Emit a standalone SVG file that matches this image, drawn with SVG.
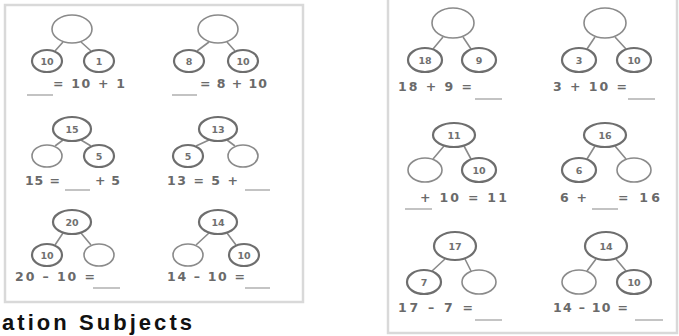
<svg xmlns="http://www.w3.org/2000/svg" width="679" height="336" viewBox="0 0 679 336">
<defs>
<style>
.panel{fill:#fff;stroke:#d9d9d9;stroke-width:2.5}
.n{fill:#fff;stroke:#8a8a8a;stroke-width:1.6}
.f{fill:#fff;stroke:#6e6e6e;stroke-width:2.2}
.c{stroke:#8a8a8a;stroke-width:1.6;fill:none}
.b{stroke:#b5b5b5;stroke-width:1.6}
.t{font-family:"DejaVu Sans",sans-serif;font-weight:bold;font-size:9.5px;fill:#707070;text-anchor:middle}
.e{font-family:"DejaVu Sans",sans-serif;font-weight:bold;font-size:12.5px;fill:#6a6a6a}
.h{font-family:"Liberation Sans",Arial,sans-serif;font-weight:bold;font-size:22px;fill:#111}
</style>
</defs>
<rect width="679" height="336" fill="#fff"/>
<rect class="panel" x="5" y="5" width="298" height="297"/>
<rect class="panel" x="388" y="-6" width="289" height="339"/>

<g id="connectors">
<path class="c" d="M63 42 L55 51 M81 42 L91 51"/>
<path class="c" d="M209 42 L197 51 M227 42 L235 51"/>
<path class="c" d="M63 140 L55 146 M81 140 L91 146"/>
<path class="c" d="M209 140 L196 146 M227 140 L235 146"/>
<path class="c" d="M63 233 L55 245 M81 233 L91 245"/>
<path class="c" d="M209 233 L196 245 M227 233 L236 245"/>
<path class="c" d="M443 37 L433 49 M463 37 L471 49"/>
<path class="c" d="M595 37 L587 49 M615 37 L626 49"/>
<path class="c" d="M444 146 L433 159 M464 146 L471 159"/>
<path class="c" d="M595 146 L587 159 M615 146 L626 159"/>
<path class="c" d="M445 259 L432 271 M465 259 L471 271"/>
<path class="c" d="M596 259 L587 271 M616 259 L626 271"/>
</g>

<g id="tree1">
<ellipse class="n" cx="72" cy="29" rx="20" ry="14"/>
<ellipse class="f" cx="47" cy="61" rx="15" ry="11"/><text class="t" x="47" y="64.5">10</text>
<ellipse class="f" cx="99" cy="61" rx="15" ry="11"/><text class="t" x="99" y="64.5">1</text>
<text class="e" x="53" y="88" textLength="72" lengthAdjust="spacing">= 10 + 1</text>
<line class="b" x1="27" y1="95" x2="53" y2="95"/>
</g>
<g id="tree2">
<ellipse class="n" cx="218" cy="29" rx="20" ry="14"/>
<ellipse class="f" cx="189" cy="61" rx="15" ry="11"/><text class="t" x="189" y="64.5">8</text>
<ellipse class="f" cx="243" cy="61" rx="15" ry="11"/><text class="t" x="243" y="64.5">10</text>
<text class="e" x="200" y="88" textLength="67" lengthAdjust="spacing">= 8 + 10</text>
<line class="b" x1="172" y1="95" x2="197" y2="95"/>
</g>
<g id="tree3">
<ellipse class="f" cx="72" cy="129" rx="19" ry="12"/><text class="t" x="72" y="132.5">15</text>
<ellipse class="n" cx="47" cy="156" rx="15" ry="11"/>
<ellipse class="f" cx="99" cy="156" rx="15" ry="11"/><text class="t" x="99" y="159.5">5</text>
<text class="e" x="25" y="185" textLength="35" lengthAdjust="spacing">15 =</text>
<text class="e" x="95" y="185" textLength="25" lengthAdjust="spacing">+ 5</text>
<line class="b" x1="65" y1="190" x2="90" y2="190"/>
</g>
<g id="tree4">
<ellipse class="f" cx="218" cy="129" rx="19" ry="12"/><text class="t" x="218" y="132.5">13</text>
<ellipse class="f" cx="188" cy="156" rx="15" ry="11"/><text class="t" x="188" y="159.5">5</text>
<ellipse class="n" cx="243" cy="156" rx="15" ry="11"/>
<text class="e" x="167" y="185" textLength="71" lengthAdjust="spacing">13 = 5 +</text>
<line class="b" x1="245" y1="190" x2="270" y2="190"/>
</g>
<g id="tree5">
<ellipse class="f" cx="72" cy="222" rx="19" ry="12"/><text class="t" x="72" y="225.5">20</text>
<ellipse class="f" cx="47" cy="255" rx="15" ry="11"/><text class="t" x="47" y="258.5">10</text>
<ellipse class="n" cx="99" cy="255" rx="15" ry="11"/>
<text class="e" x="15" y="281" textLength="80" lengthAdjust="spacing">20 – 10 =</text>
<line class="b" x1="93" y1="288" x2="120" y2="288"/>
</g>
<g id="tree6">
<ellipse class="f" cx="218" cy="222" rx="19" ry="12"/><text class="t" x="218" y="225.5">14</text>
<ellipse class="n" cx="188" cy="255" rx="15" ry="11"/>
<ellipse class="f" cx="244" cy="255" rx="15" ry="11"/><text class="t" x="244" y="258.5">10</text>
<text class="e" x="167" y="281" textLength="78" lengthAdjust="spacing">14 – 10 =</text>
<line class="b" x1="245" y1="288" x2="270" y2="288"/>
</g>

<g id="tree7">
<ellipse class="n" cx="453" cy="23" rx="21" ry="15"/>
<ellipse class="f" cx="425" cy="60" rx="17" ry="12"/><text class="t" x="425" y="63.5">18</text>
<ellipse class="f" cx="479" cy="60" rx="17" ry="12"/><text class="t" x="479" y="63.5">9</text>
<text class="e" x="398" y="91" textLength="74" lengthAdjust="spacing">18 + 9 =</text>
<line class="b" x1="475" y1="99" x2="502" y2="99"/>
</g>
<g id="tree8">
<ellipse class="n" cx="605" cy="23" rx="21" ry="15"/>
<ellipse class="f" cx="579" cy="60" rx="17" ry="12"/><text class="t" x="579" y="63.5">3</text>
<ellipse class="f" cx="634" cy="60" rx="17" ry="12"/><text class="t" x="634" y="63.5">10</text>
<text class="e" x="553" y="91" textLength="74" lengthAdjust="spacing">3 + 10 =</text>
<line class="b" x1="628" y1="99" x2="655" y2="99"/>
</g>
<g id="tree9">
<ellipse class="f" cx="454" cy="135" rx="21" ry="12"/><text class="t" x="454" y="138.5">11</text>
<ellipse class="n" cx="425" cy="170" rx="17" ry="12"/>
<ellipse class="f" cx="479" cy="170" rx="17" ry="12"/><text class="t" x="479" y="173.5">10</text>
<text class="e" x="420" y="202" textLength="87" lengthAdjust="spacing">+ 10 = 11</text>
<line class="b" x1="405" y1="209" x2="432" y2="209"/>
</g>
<g id="tree10">
<ellipse class="f" cx="605" cy="135" rx="21" ry="12"/><text class="t" x="605" y="138.5">16</text>
<ellipse class="f" cx="579" cy="170" rx="17" ry="12"/><text class="t" x="579" y="173.5">6</text>
<ellipse class="n" cx="634" cy="170" rx="17" ry="12"/>
<text class="e" x="560" y="202" textLength="27" lengthAdjust="spacing">6 +</text>
<text class="e" x="618" y="202" textLength="42" lengthAdjust="spacing">= 16</text>
<line class="b" x1="592" y1="209" x2="618" y2="209"/>
</g>
<g id="tree11">
<ellipse class="f" cx="455" cy="246" rx="21" ry="14"/><text class="t" x="455" y="249.5">17</text>
<ellipse class="f" cx="424" cy="282" rx="17" ry="12"/><text class="t" x="424" y="285.5">7</text>
<ellipse class="n" cx="479" cy="282" rx="17" ry="12"/>
<text class="e" x="398" y="312" textLength="75" lengthAdjust="spacing">17 – 7 =</text>
<line class="b" x1="475" y1="320" x2="502" y2="320"/>
</g>
<g id="tree12">
<ellipse class="f" cx="606" cy="246" rx="21" ry="14"/><text class="t" x="606" y="249.5">14</text>
<ellipse class="n" cx="579" cy="282" rx="17" ry="12"/>
<ellipse class="f" cx="634" cy="282" rx="17" ry="12"/><text class="t" x="634" y="285.5">10</text>
<text class="e" x="553" y="312" textLength="75" lengthAdjust="spacing">14 – 10 =</text>
<line class="b" x1="635" y1="320" x2="663" y2="320"/>
</g>

<text class="h" x="2" y="330" textLength="190" lengthAdjust="spacing">ation Subjects</text>
</svg>
